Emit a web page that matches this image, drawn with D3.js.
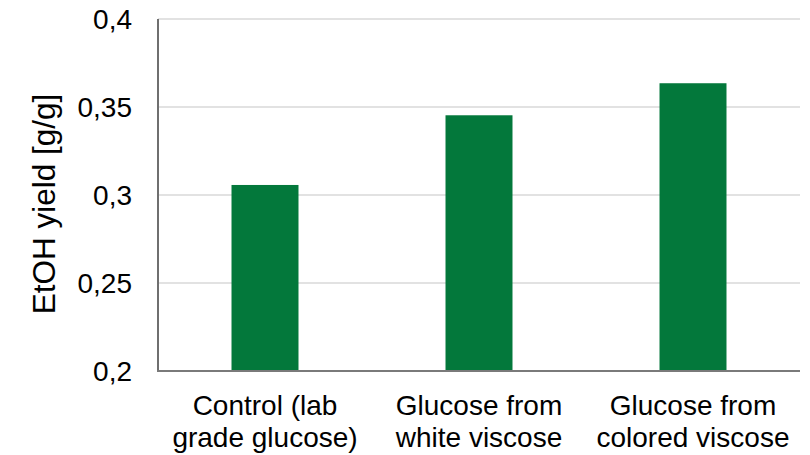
<!DOCTYPE html>
<html><head><meta charset="utf-8">
<script src="https://cdn.jsdelivr.net/npm/d3@7"></script>
<style>body{margin:0;background:#fff}svg{display:block;font-family:"Liberation Sans",Arial,sans-serif}</style>
</head><body><svg id="c" width="810" height="455"></svg>
<script>
const categories = [["Control (lab","grade glucose)"],["Glucose from","white viscose"],["Glucose from","colored viscose"]];
const values = [0.3057, 0.3453, 0.3635];
const yTicks = [0.2, 0.25, 0.3, 0.35, 0.4];
const yTickLabels = ["0,2","0,25","0,3","0,35","0,4"];
const yTitle = "EtOH yield [g/g]";

const svg = d3.select("#c");
const L = 158, R = 800, T = 19, B = 371;
const x = d3.scaleBand().domain(d3.range(categories.length)).range([L, R]).paddingInner(0.687).paddingOuter(0.3435);
const y = d3.scaleLinear().domain([0.2, 0.4]).range([B, T]);

// gridlines
svg.append("g").selectAll("line").data(yTicks.slice(1)).join("line")
  .attr("x1", L).attr("x2", R).attr("y1", d => y(d)).attr("y2", d => y(d))
  .attr("stroke", "#d9d9d9").attr("stroke-width", 1.5);

// bars
svg.append("g").selectAll("rect").data(values).join("rect")
  .attr("x", (d,i) => x(i)).attr("width", x.bandwidth())
  .attr("y", d => y(d)).attr("height", d => y(0.2) - y(d))
  .attr("fill", "#03783b");

// axes lines
svg.append("line").attr("x1", L).attr("x2", L).attr("y1", T).attr("y2", B+1)
  .attr("stroke", "#6f6f6f").attr("stroke-width", 2);
svg.append("line").attr("x1", L-1).attr("x2", R).attr("y1", B).attr("y2", B)
  .attr("stroke", "#7a7a7a").attr("stroke-width", 2);

// y tick labels
svg.append("g").selectAll("text").data(yTicks).join("text")
  .attr("x", 132).attr("y", d => y(d)).attr("dy", "0.36em")
  .attr("text-anchor", "end").attr("font-size", 28).attr("fill", "#000")
  .text((d,i) => yTickLabels[i]);

// x category labels
const cg = svg.append("g").selectAll("text").data(categories).join("text")
  .attr("text-anchor", "middle").attr("font-size", 28).attr("fill", "#000");
cg.each(function(d, i) {
  const t = d3.select(this);
  d.forEach((line, j) => {
    t.append("tspan").attr("x", x(i) + x.bandwidth()/2).attr("y", 415 + j*32).text(line);
  });
});

// y title
svg.append("text").attr("transform", "translate(55,204) rotate(-90)")
  .attr("text-anchor", "middle").attr("font-size", 31.5).attr("fill", "#000")
  .text(yTitle);
</script></body></html>
